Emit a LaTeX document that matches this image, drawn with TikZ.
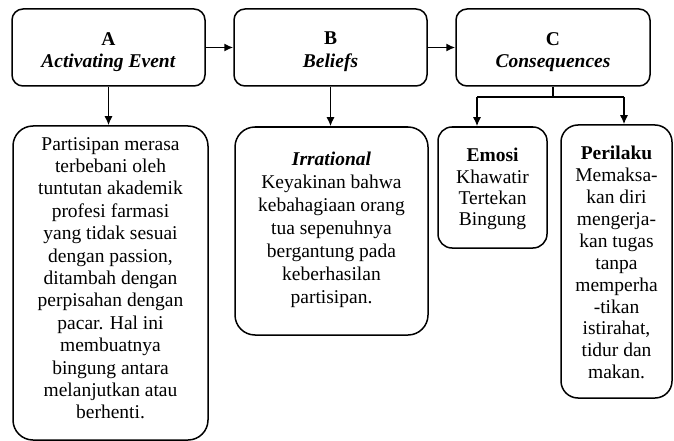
\documentclass[tikz,border=0pt]{standalone}
\usepackage{fontspec}
\setmainfont{Liberation Serif}
\usetikzlibrary{arrows.meta}
\begin{document}
\begin{tikzpicture}[x=1pt,y=-1pt,>={Latex[length=9pt,width=8pt]},
  box/.style={draw, line width=1.5pt, inner sep=0pt},
  txt/.style={align=center, inner sep=0pt, anchor=north, font=\fontsize{19.5}{22.4}\selectfont},
  link/.style={->, line width=1.5pt}]
\useasboundingbox (0,0) rectangle (674,441);
% top row
\node[box, rounded corners=11pt, minimum width=193pt, minimum height=77pt] (a) at (108.5,47.5) {};
\node[box, rounded corners=11pt, minimum width=193pt, minimum height=77pt] (b) at (330.5,47.5) {};
\node[box, rounded corners=11pt, minimum width=194pt, minimum height=77pt] (c) at (553,47.5) {};
\node[txt] (at) at (108.5,32) {\textbf{A}\\\textbf{\textit{Activating Event}}};
\node[txt] (bt) at (330.5,32) {\textbf{B}\\\textbf{\textit{Beliefs}}};
\node[txt] (ct) at (553,32) {\textbf{C}\\\textbf{\textit{Consequences}}};
% lower row
\node[box, rounded corners=20pt, minimum width=195pt, minimum height=314pt] (ea) at (110.5,283) {};
\node[box, rounded corners=20pt, minimum width=193pt, minimum height=208pt] (eb) at (331.5,231) {};
\node[box, rounded corners=14pt, minimum width=109pt, minimum height=121pt] (em) at (492.5,187.5) {};
\node[box, rounded corners=17pt, minimum width=111pt, minimum height=273pt] (ep) at (616.5,261.5) {};
\node[txt] (eat) at (110.5,137) {Partisipan merasa\\terbebani oleh\\tuntutan akademik\\profesi farmasi\\yang tidak sesuai\\dengan passion,\\ditambah dengan\\perpisahan dengan\\pacar. Hal ini\\membuatnya\\bingung antara\\melanjutkan atau\\berhenti.};
\node[txt, font=\fontsize{19.5}{23}\selectfont] (ebt) at (331.5,152) {\textbf{\textit{Irrational}}\\Keyakinan bahwa\\kebahagiaan orang\\tua sepenuhnya\\bergantung pada\\keberhasilan\\partisipan.};
\node[txt, font=\fontsize{19.5}{21.4}\selectfont] (emt) at (492.5,148) {\textbf{Emosi}\\Khawatir\\Tertekan\\Bingung};
\node[txt, font=\fontsize{19.5}{21.9}\selectfont] (ept) at (616.5,146) {\textbf{Perilaku}\\Memaksa-\\kan diri\\mengerja-\\kan tugas\\tanpa\\memperha\\-tikan\\istirahat,\\tidur dan\\makan.};
% connectors
\coordinate (cb) at (553,97);
\coordinate (cl) at (477,97);
\coordinate (cr) at (624,97);
\draw[link] (a) -- (b);
\draw[link] (b) -- (c);
\draw[link] (a.south) -- (a.south |- ea.north);
\draw[link] (b.south) -- (b.south |- eb.north);
\draw[line width=1.5pt] (c.south) -- (cb);
\draw[line width=1.5pt] (cl) -- (cr);
\draw[link] (cl) -- (cl |- em.north);
\draw[link] (cr) -- (cr |- ep.north);
\end{tikzpicture}
\end{document}
